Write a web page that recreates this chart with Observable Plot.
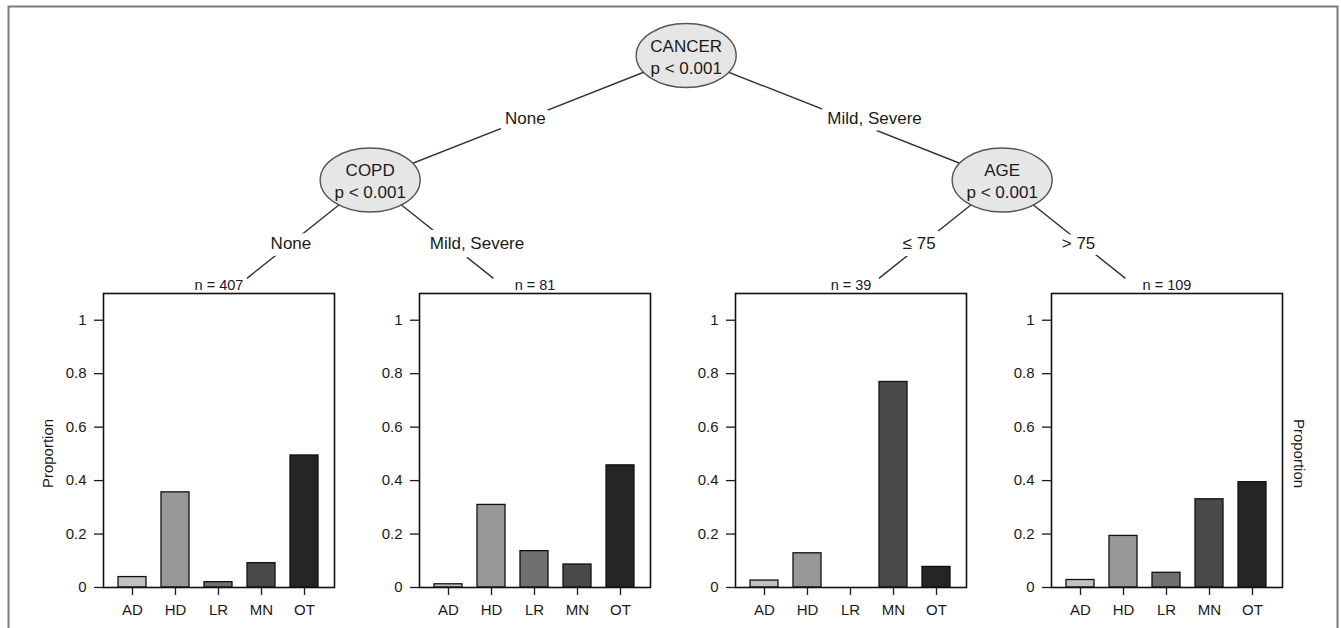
<!DOCTYPE html>
<html><head><meta charset="utf-8">
<script src="https://cdn.jsdelivr.net/npm/d3@7"></script>
<script src="https://cdn.jsdelivr.net/npm/@observablehq/plot@0.6"></script>
<style>
html,body{margin:0;padding:0;background:#fff;overflow:hidden;}
#wrap{position:relative;width:1341px;height:628px;overflow:hidden;background:#fff;}
#wrap > svg{position:absolute;}
</style></head><body><div id="wrap"></div>
<script>
// ---------- data ----------
const classes = ["AD", "HD", "LR", "MN", "OT"];
const yTicks = [0, 0.2, 0.4, 0.6, 0.8, 1];
const leafNames = ["leaf1", "leaf2", "leaf3", "leaf4"];
const leafN = [407, 81, 39, 109];
const leaf1Prop = [0.039, 0.356, 0.020, 0.091, 0.494];
const leaf2Prop = [0.012, 0.309, 0.136, 0.086, 0.457];
const leaf3Prop = [0.026, 0.128, 0.000, 0.769, 0.077];
const leaf4Prop = [0.028, 0.193, 0.055, 0.330, 0.394];
const innerNames = ["CANCER", "COPD", "AGE"];
const innerP = ["p < 0.001", "p < 0.001", "p < 0.001"];
const edgeFrom = ["CANCER", "CANCER", "COPD", "COPD", "AGE", "AGE"];
const edgeTo = ["COPD", "AGE", "leaf1", "leaf2", "leaf3", "leaf4"];
const edgeLabels = ["None", "Mild, Severe", "None", "Mild, Severe", "≤ 75", "> 75"];

// ---------- styles ----------
const FONT = "'Liberation Sans', Arial, Helvetica, sans-serif";
const barFills = ["#c2c2c2", "#989898", "#707070", "#4a4a4a", "#252525"];
const LEAF_DEPTH = 1.79;      // where edges reach the terminal panels (depth units)
const LABEL_DEPTH = 0.51;     // edge-label offset below parent (depth units)
const ML = 74, MR = 32, PW = 231;

// ---------- tree layout ----------
const pos = {};
function depthOf(name) {
  const j = edgeTo.indexOf(name);
  return j < 0 ? 0 : depthOf(edgeFrom[j]) + 1;
}
leafNames.forEach((name, i) => {
  const parent = edgeFrom[edgeTo.indexOf(name)];
  const sibs = edgeTo.filter((t, j) => edgeFrom[j] === parent);
  pos[name] = {x: i + (sibs[0] === name ? 0.09 : -0.13), depth: LEAF_DEPTH};
});
function place(name) {
  if (pos[name]) return pos[name];
  const kids = edgeTo.filter((t, j) => edgeFrom[j] === name).map(place);
  pos[name] = {x: d3.mean(kids, k => k.x), depth: depthOf(name)};
  return pos[name];
}
innerNames.forEach(place);
const inner = innerNames.map((n, i) => ({name: n, p: innerP[i], x: pos[n].x, depth: pos[n].depth}));
const edges = edgeFrom.map((f, i) => {
  const a = pos[f], b = pos[edgeTo[i]];
  const t = LABEL_DEPTH / (b.depth - a.depth);
  return {x1: a.x, y1: a.depth, x2: b.x, y2: b.depth, label: edgeLabels[i],
          lx: a.x + t * (b.x - a.x), ly: a.depth + LABEL_DEPTH};
});

const ellipse = {
  draw(ctx) {
    const rx = 50, ry = 32, k = 0.5522847498;
    ctx.moveTo(rx, 0);
    ctx.bezierCurveTo(rx, ry * k, rx * k, ry, 0, ry);
    ctx.bezierCurveTo(-rx * k, ry, -rx, ry * k, -rx, 0);
    ctx.bezierCurveTo(-rx, -ry * k, -rx * k, -ry, 0, -ry);
    ctx.bezierCurveTo(rx * k, -ry, rx, -ry * k, rx, 0);
    ctx.closePath();
  }
};

const wrap = document.getElementById("wrap");
const tree = Plot.plot({
  width: 1341, height: 640,
  marginTop: 6, marginLeft: 8, marginRight: 4, marginBottom: 0,
  x: {domain: [0, 3], range: [218, 1166], axis: null},
  y: {domain: [0, 1], range: [55, 179.5], axis: null},
  style: {fontFamily: FONT, background: "transparent"},
  marks: [
    Plot.frame({stroke: "#7a7a7a", strokeWidth: 2}),
    Plot.link(edges, {x1: "x1", y1: "y1", x2: "x2", y2: "y2", stroke: "#333", strokeWidth: 1.4}),
    Plot.dot(inner, {x: "x", y: "depth", r: 1, symbol: ellipse, fill: "#e6e6e6", stroke: "#555", strokeWidth: 1.4}),
    Plot.text(inner, {x: "x", y: "depth", text: d => d.name + "\n" + d.p, lineHeight: 1.3, fontSize: 17, fill: "#1a1a1a"}),
    Plot.text(edges, {x: "lx", y: "ly", text: "label", textAnchor: "start", dx: -20, fontSize: 17,
      fill: "#1a1a1a", stroke: "white", strokeWidth: 14, paintOrder: "stroke"})
  ]
});
tree.style.left = "0px"; tree.style.top = "0px";
wrap.appendChild(tree);

const xs = tree.scale("x");
const leafProps = [leaf1Prop, leaf2Prop, leaf3Prop, leaf4Prop];
leafNames.forEach((name, i) => {
  const data = classes.map((c, k) => ({cls: c, p: leafProps[i][k]}));
  const marks = [
    Plot.barY(data, {x: "cls", y: "p", fill: "cls", stroke: "#111", strokeWidth: 1.3}),
    Plot.frame({stroke: "#111", strokeWidth: 1.6}),
    Plot.axisY({ticks: yTicks, tickFormat: d => String(d), tickSize: 9, tickPadding: 8,
      fontSize: 15, label: null, color: "#1a1a1a", strokeWidth: 1.3}),
    Plot.axisX({tickSize: 8, tickPadding: 9, fontSize: 15, label: null, color: "#1a1a1a", strokeWidth: 1.3}),
    Plot.text([`n = ${leafN[i]}`], {text: d => d, frameAnchor: "top", lineAnchor: "middle", dy: -8,
      fontSize: 14.5, fill: "#1a1a1a"})
  ];
  if (i === 0) marks.push(Plot.text(["Proportion"], {text: d => d, frameAnchor: "left", textAnchor: "middle",
    lineAnchor: "middle", rotate: -90, dx: -55, dy: 13, fontSize: 15, fill: "#1a1a1a"}));
  if (i === leafNames.length - 1) marks.push(Plot.text(["Proportion"], {text: d => d, frameAnchor: "right",
    textAnchor: "middle", lineAnchor: "middle", rotate: 90, dx: 16, dy: 13, fontSize: 15, fill: "#1a1a1a"}));
  const p = Plot.plot({
    width: ML + PW + MR, height: 360,
    marginLeft: ML, marginRight: MR, marginTop: 25, marginBottom: 41,
    x: {domain: classes, padding: 0.34},
    y: {domain: [0, 1.1]},
    color: {domain: classes, range: barFills},
    style: {fontFamily: FONT, background: "transparent", fontSize: "15px"},
    marks
  });
  p.style.left = (xs.apply(i) - PW / 2 - ML) + "px";
  p.style.top = "268px";
  wrap.appendChild(p);
});
</script>
</body></html>
